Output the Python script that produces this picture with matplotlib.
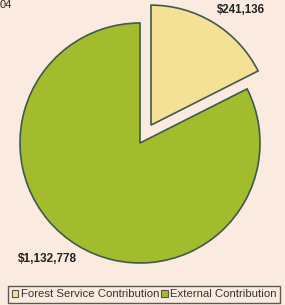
import matplotlib.pyplot as plt
from matplotlib.patches import Patch

labels = ['Forest Service Contribution', 'External Contribution']
values = [241136, 1132778]
value_labels = ['$241,136', '$1,132,778']
colors = ['#F5E196', '#A3BC2D']
edge = '#3F5A4C'
bg = '#FAEAE0'

plt.rcParams['font.family'] = ['Liberation Sans Narrow', 'Liberation Sans', 'DejaVu Sans']

fig = plt.figure(figsize=(2.85, 3.05), dpi=100)
fig.patch.set_facecolor(bg)
ax = fig.add_axes([0, 0, 1, 1])
ax.set_facecolor(bg)

# pixel-like coordinates, y up; explode is in the same units
ax.pie(values, colors=colors, startangle=90, counterclock=False,
       explode=[21, 0], center=(140, 162), radius=120,
       wedgeprops=dict(edgecolor=edge, linewidth=1.2))
ax.set_xlim(0, 285)
ax.set_ylim(0, 305)
ax.axis('off')

ax.text(241, 295, value_labels[0], ha='center', va='center',
        fontsize=8.3, fontweight='bold', color='#222222')
ax.text(47, 46, value_labels[1], ha='center', va='center',
        fontsize=8.5, fontweight='bold', color='#222222')

# remains of the title, top-left
ax.text(0, 305, '04', ha='left', va='top', fontsize=8, color='#222222')

handles = [Patch(facecolor=c, edgecolor='#555555', linewidth=0.8) for c in colors]
leg = fig.legend(handles, labels, loc='lower center', bbox_to_anchor=(0.505, 0.005),
                 ncol=2, fontsize=8.2, frameon=True, fancybox=False,
                 handlelength=0.6, handleheight=0.6, handletextpad=0.2,
                 columnspacing=0.15, borderpad=0.35, borderaxespad=0)
leg.get_frame().set_edgecolor('#333333')
leg.get_frame().set_facecolor(bg)
leg.get_frame().set_linewidth(1.0)
for t in leg.get_texts():
    t.set_color('#333333')

fig.savefig('out.png', dpi=100, facecolor=bg)
